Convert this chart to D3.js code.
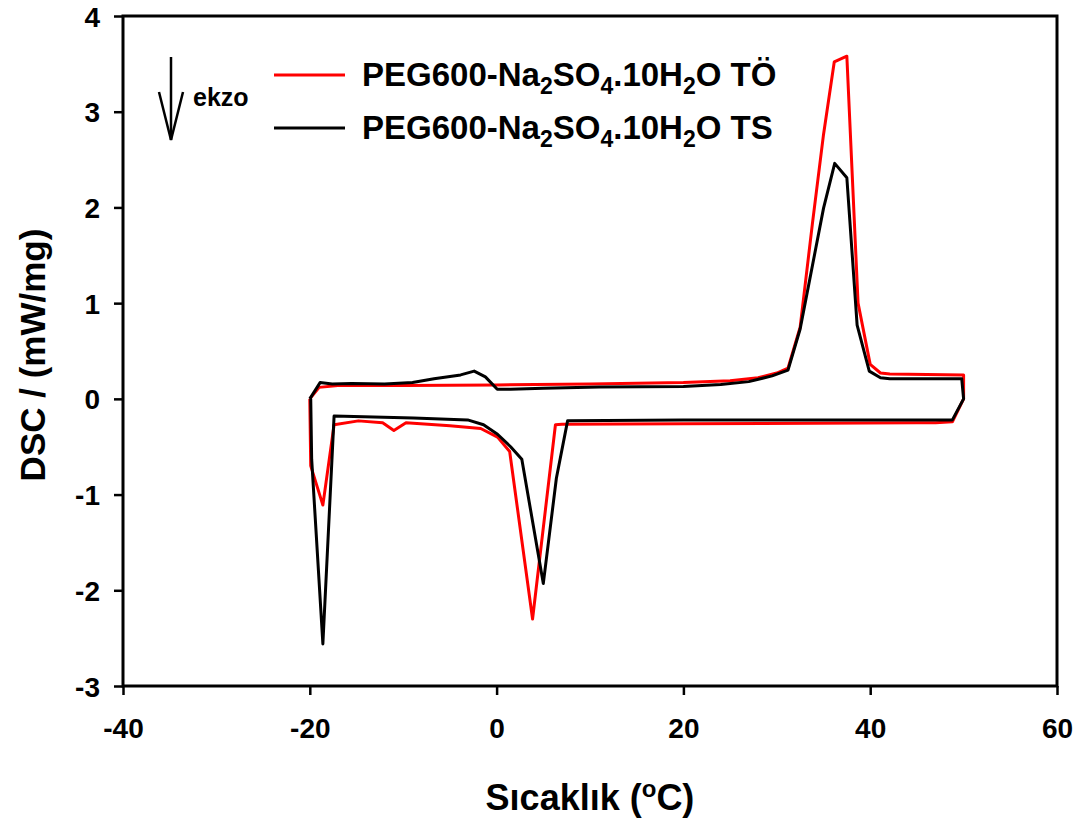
<!DOCTYPE html>
<html>
<head>
  <script src="https://d3js.org/d3.v7.min.js"></script>
  <title>DSC</title>
  <style>
    body { margin: 0; background: #fff; }
    text { font-family: "Liberation Sans", Arial, sans-serif; font-weight: bold; fill: #000; }
  </style>
</head>
<body>
  <div id='chart'></div>
  <script>
    // TÖ (red) loop
    var toX = [-20.0, -19.0, -17.0, -10, 0, 10, 20, 25, 28, 30, 31.2, 32.5, 33.8, 35.0, 36.15, 37.5, 38.7, 40.0, 41.1, 42.1, 50.0,
               50.0, 48.8, 47, 45, 20, 7.0, 6.3, 3.85, 1.4, 0.1, -1.7, -5, -9.7, -11.0, -12.2, -14.8, -17.4, -18.6, -19.9, -20.0];
    var toY = [0.00, 0.12, 0.14, 0.14, 0.145, 0.155, 0.17, 0.19, 0.22, 0.27, 0.32, 0.75, 1.82, 2.76, 3.52, 3.58, 1.0, 0.36, 0.27, 0.26, 0.25,
               0.0, -0.24, -0.25, -0.25, -0.26, -0.265, -0.27, -2.30, -0.55, -0.40, -0.31, -0.28, -0.25, -0.33, -0.25, -0.23, -0.27, -1.11, -0.70, 0.0];
    // TS (black) loop
    var tsX = [-20.0, -18.9, -17.6, -15.5, -12, -9, -6.7, -3.85, -2.4, -1.2, 0.07, 1.5, 5, 11, 20, 24, 27, 29.5, 31.2, 32.5, 35.0, 36.2, 37.5, 38.6, 39.9, 41.1, 42.1, 49.8,
               50.0, 48.8, 20, 7.6, 6.4, 5.0, 2.7, 1.5, 0.1, -1.4, -3.1, -8.9, -17.4, -18.6, -19.8, -19.9];
    var tsY = [0.00, 0.17, 0.155, 0.16, 0.155, 0.17, 0.21, 0.25, 0.29, 0.23, 0.10, 0.10, 0.11, 0.125, 0.13, 0.15, 0.18, 0.24, 0.30, 0.73, 1.99, 2.46, 2.31, 0.77, 0.29, 0.22, 0.21, 0.21,
               0.0, -0.22, -0.22, -0.23, -0.83, -1.93, -0.63, -0.50, -0.37, -0.27, -0.22, -0.20, -0.18, -2.56, -0.63, 0.0];
    var xTicks = [-40, -20, 0, 20, 40, 60];
    var yTicks = [-3, -2, -1, 0, 1, 2, 3, 4];

    var width = 1082, height = 823;
    var svg = d3.select('#chart').append('svg').attr('width', width).attr('height', height);

    var x = d3.scaleLinear().domain([-40, 60]).range([123, 1057]);
    var y = d3.scaleLinear().domain([-3, 4]).range([686, 16]);

    var line = d3.line().x(function(d) { return x(d[0]); }).y(function(d) { return y(d[1]); });

    svg.append('path')
      .attr('d', line(d3.zip(toX, toY)))
      .attr('fill', 'none').attr('stroke', '#ff0000').attr('stroke-width', 3).attr('stroke-linejoin', 'round');
    svg.append('path')
      .attr('d', line(d3.zip(tsX, tsY)))
      .attr('fill', 'none').attr('stroke', '#000').attr('stroke-width', 3).attr('stroke-linejoin', 'round');

    // frame
    svg.append('rect')
      .attr('x', x(-40)).attr('y', y(4))
      .attr('width', x(60) - x(-40)).attr('height', y(-3) - y(4))
      .attr('fill', 'none').attr('stroke', '#000').attr('stroke-width', 3);

    var fmt = function(d) { return String(d); };
    var xAxis = svg.append('g')
      .attr('transform', 'translate(0,' + y(-3) + ')')
      .call(d3.axisBottom(x).tickValues(xTicks).tickSize(9).tickPadding(23).tickFormat(fmt));
    var yAxis = svg.append('g')
      .attr('transform', 'translate(' + x(-40) + ',0)')
      .call(d3.axisLeft(y).tickValues(yTicks).tickSize(9).tickPadding(14).tickFormat(fmt));
    [xAxis, yAxis].forEach(function(g) {
      g.select('.domain').remove();
      g.selectAll('line').attr('stroke', '#000').attr('stroke-width', 2.5);
      g.selectAll('text').attr('font-size', '28px').attr('font-family', '"Liberation Sans", Arial, sans-serif').attr('font-weight', 'bold');
    });
    yAxis.selectAll('text').attr('dy', '0.36em');

    // axis titles
    var xt = svg.append('text')
      .attr('x', 590).attr('y', 810)
      .attr('text-anchor', 'middle')
      .attr('font-size', '36px');
    xt.append('tspan').text('Sıcaklık (');
    xt.append('tspan').text('o').attr('font-size', '24px').attr('dy', -13);
    xt.append('tspan').text('C)').attr('dy', 13);

    svg.append('text')
      .attr('transform', 'translate(45,355) rotate(-90)')
      .attr('text-anchor', 'middle')
      .attr('font-size', '35px')
      .text('DSC / (mW/mg)');

    // exo arrow
    svg.append('line').attr('x1', 171).attr('y1', 57).attr('x2', 171).attr('y2', 140)
      .attr('stroke', '#000').attr('stroke-width', 2.5);
    svg.append('path').attr('d', 'M159,92L171,140L183,92')
      .attr('fill', 'none').attr('stroke', '#000').attr('stroke-width', 2.5);
    svg.append('text').attr('x', 193).attr('y', 106).attr('font-size', '25px').text('ekzo');

    // legend
    var legend = [
      { color: '#ff0000', tail: ' TÖ', y: 75 },
      { color: '#000000', tail: ' TS', y: 128 }
    ];
    legend.forEach(function(l) {
      svg.append('line').attr('x1', 274).attr('x2', 345).attr('y1', l.y).attr('y2', l.y)
        .attr('stroke', l.color).attr('stroke-width', 3);
      var t = svg.append('text').attr('x', 362).attr('y', l.y + 11).attr('font-size', '33px');
      t.append('tspan').text('PEG600-Na');
      t.append('tspan').text('2').attr('font-size', '23px').attr('dy', 8);
      t.append('tspan').text('SO').attr('dy', -8);
      t.append('tspan').text('4').attr('font-size', '23px').attr('dy', 8);
      t.append('tspan').text('.10H').attr('dy', -8);
      t.append('tspan').text('2').attr('font-size', '23px').attr('dy', 8);
      t.append('tspan').text('O' + l.tail).attr('dy', -8);
    });
  </script>
</body>
</html>
